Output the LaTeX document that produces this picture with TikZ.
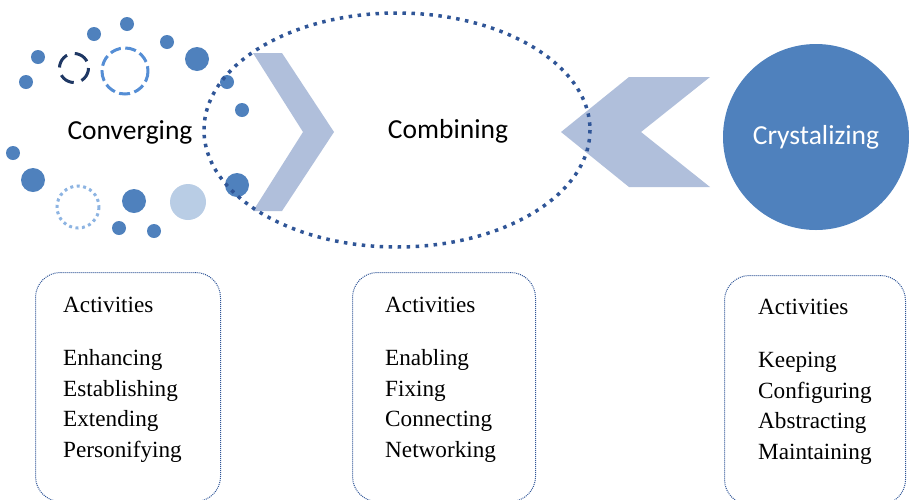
\documentclass[tikz,border=0pt]{standalone}
\usepackage{fontspec}
\setmainfont{Liberation Serif}
\newfontfamily\calib{Carlito}
\definecolor{dotblue}{RGB}{79,129,189}
\definecolor{navy}{RGB}{31,56,100}
\definecolor{ringblue}{RGB}{85,142,213}
\definecolor{paleblue}{RGB}{141,180,226}
\definecolor{ghost}{RGB}{185,205,229}
\definecolor{chev}{RGB}{176,191,219}
\definecolor{rim}{RGB}{47,85,151}
\tikzset{
    phase/.style={font=\calib\fontsize{27.5}{32}\selectfont, inner sep=0pt},
    actbox/.style={draw=rim, dash pattern=on 1pt off 1pt, line width=1pt, rounded corners=25pt, anchor=north west, minimum width=#1, minimum height=229},
    acttext/.style={anchor=north west, align=left, inner sep=0pt, font=\fontsize{23.2}{30.8}\selectfont}
}
\begin{document}
\begin{tikzpicture}[x=1pt,y=-1pt]
    \useasboundingbox (0,0) rectangle (909,499);
    \clip (0,0) rectangle (909,499);
    % small circles round Converging
    \foreach \x/\y/\r in {127/24/7,94/34/7,38/57/7,167/42/7,26/82/7,197/59/12,227/82/7,242/110/7,13/153/7,33/180/12,134/201/12,237/185/12,119/228/7,154/231/7}
    {
    \fill[dotblue] (\x,\y) circle (\r);
    }
    \fill[ghost] (188,202) circle (18);
    \draw[navy, line width=3pt, dash pattern=on 15pt off 8pt] (74,68) circle (14.5);
    \draw[ringblue, line width=3pt, dash pattern=on 11pt off 4.5pt] (125,71) circle (23);
    \draw[paleblue, line width=3pt, dash pattern=on 3pt off 3.5pt] (78,207) circle (21);
    % chevrons
    \fill[chev] (253,53) -- (282,53) -- (334,132) -- (282,211) -- (253,211) -- (303,132) -- cycle;
    \fill[chev] (710,77) -- (629,77) -- (561,132) -- (629,187) -- (710,187) -- (641,132) -- cycle;
    % dotted ellipse
    \draw[rim, line width=3.5pt, dash pattern=on 3.5pt off 5.5pt] (397,130) ellipse (193 and 117);
    \node (conv) [phase] at (130,132) {Converging};
    \node (comb) [phase] at (448,131) {Combining};
    \node (crys) [circle, fill=dotblue, minimum size=186, text=white, phase] at (816,137) {Crystalizing};
    % activity boxes
    \node (box1) [actbox=185] at (35,272) {};
    \node (box2) [actbox=183] at (352,272) {};
    \node (box3) [actbox=181] at (724,275) {};
    \node (act1) [acttext] at (63,297) {Activities\\[22pt]Enhancing\\Establishing\\Extending\\Personifying};
    \node (act2) [acttext] at (385,297) {Activities\\[22pt]Enabling\\Fixing\\Connecting\\Networking};
    \node (act3) [acttext] at (758,299) {Activities\\[22pt]Keeping\\Configuring\\Abstracting\\Maintaining};
\end{tikzpicture}
\end{document}
